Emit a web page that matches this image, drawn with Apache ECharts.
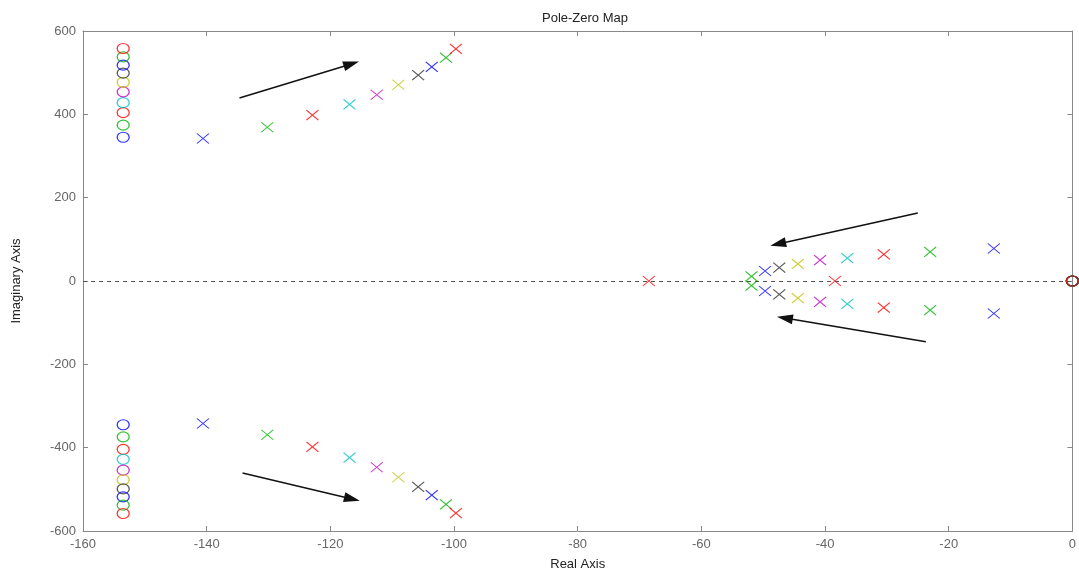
<!DOCTYPE html>
<html><head><meta charset="utf-8">
<script src="https://cdn.jsdelivr.net/npm/echarts@6/dist/echarts.min.js"></script>
<style>html,body{margin:0;padding:0;background:#fff}#c{width:1079px;height:576px}</style>
</head><body><div id="c"></div>
<script>
// MATLAB-style colour order for 10 systems
const systemColors = ['#0000ff','#00b000','#ff0000','#00c0c0','#c000c0','#c0c000','#303030','#0000ff','#00b000','#ff0000'];
// zeros: complex pair at fixed real part, plus a zero at origin
const zeroRe = [-153.5,-153.5,-153.5,-153.5,-153.5,-153.5,-153.5,-153.5,-153.5,-153.5];
const zeroIm = [345,374,404,428,454,477,499,518,538,558];
// fast complex pole pair
const highPoleRe = [-140.6,-130.2,-122.9,-116.9,-112.5,-109.0,-105.8,-103.6,-101.3,-99.7];
const highPoleIm = [342,369,398,424,447,471,494,514,536,557];
// slow complex pole pair (null for system without pair)
const lowPoleRe = [-12.7,-23.0,-30.5,-36.4,-40.8,-44.4,-47.4,-49.7,-51.9,null];
const lowPoleIm = [78,70,64,55,50,41,32,24,11,null];
// extra real poles
const realPoles = [[],[],[],[],[],[],[],[],[],[-68.5,-38.4]];
// annotation arrows [x1,y1,x2,y2]
const arrows = [[-134.7,439,-116.6,521],[-134.2,-461,-116.5,-523],[-25.0,163,-47.6,89],[-23.7,-146,-46.5,-89]];
const xTicks = {min:-160,max:0,interval:20};
const yTicks = {min:-600,max:600,interval:200};

const crossPath = 'path://M0,0L10,10M10,0L0,10';
const ellipsePath = 'path://M0,5A5,5 0 1,1 10,5A5,5 0 1,1 0,5Z';
const series = [];
series.push({
  type:'line', data:[], silent:true,
  markLine:{silent:true, symbol:['none','none'], label:{show:false},
    lineStyle:{type:[4,4], color:'#555', width:1}, data:[{yAxis:0}]}
});
series.push({
  type:'line', data:[], silent:true,
  markLine:{silent:true, symbol:['none','triangle'], symbolSize:[10,16], label:{show:false},
    lineStyle:{type:'solid', color:'#111', width:1.5},
    data: arrows.map(a=>[{coord:[a[0],a[1]]},{coord:[a[2],a[3]]}])}
});
for (let i=0;i<10;i++){
  const c = systemColors[i];
  const poles = [[highPoleRe[i],highPoleIm[i]],[highPoleRe[i],-highPoleIm[i]]];
  if (lowPoleRe[i]!==null){ poles.push([lowPoleRe[i],lowPoleIm[i]]); poles.push([lowPoleRe[i],-lowPoleIm[i]]); }
  realPoles[i].forEach(r=>poles.push([r,0]));
  series.push({type:'scatter', data:poles, symbol:crossPath, symbolSize:[12,10],
    itemStyle:{color:'rgba(0,0,0,0)', borderColor:c, borderWidth:1.1}, silent:true});
  series.push({type:'scatter', data:[[zeroRe[i],zeroIm[i]],[zeroRe[i],-zeroIm[i]],[0,0]], symbol:ellipsePath, symbolSize:[12,10],
    itemStyle:{color:'rgba(0,0,0,0)', borderColor:c, borderWidth:1.2}, silent:true});
}
const lblStyle = {color:'#666', fontFamily:'Liberation Sans, Arial', fontSize:13};
const axLine = {show:true, lineStyle:{color:'#888', width:1}};
const option = {
  animation:false,
  title:{text:'Pole-Zero Map', left:580, top:7, textAlign:'center',
    textStyle:{fontFamily:'Liberation Sans, Arial', fontSize:13, fontWeight:'normal', color:'#222'}},
  grid:{left:83, right:1, top:31, bottom:44},
  xAxis:[
    {type:'value', min:xTicks.min, max:xTicks.max, interval:xTicks.interval, position:'bottom',
     axisLine:Object.assign({onZero:false},axLine), axisTick:{show:true, inside:true, length:5, lineStyle:{color:'#888'}},
     splitLine:{show:false}, axisLabel:Object.assign({margin:7},lblStyle),
     name:'Real Axis', nameLocation:'middle', nameGap:27,
     nameTextStyle:{fontFamily:'Liberation Sans, Arial', fontSize:13, color:'#222'}},
    {type:'value', min:xTicks.min, max:xTicks.max, interval:xTicks.interval, position:'top',
     axisLine:Object.assign({onZero:false},axLine), axisTick:{show:true, inside:true, length:5, lineStyle:{color:'#888'}},
     splitLine:{show:false}, axisLabel:{show:false}}
  ],
  yAxis:[
    {type:'value', min:yTicks.min, max:yTicks.max, interval:yTicks.interval, position:'left',
     axisLine:Object.assign({onZero:false},axLine), axisTick:{show:true, inside:true, length:5, lineStyle:{color:'#888'}},
     splitLine:{show:false}, axisLabel:Object.assign({margin:7},lblStyle),
     name:'Imaginary Axis', nameLocation:'middle', nameGap:60,
     nameTextStyle:{fontFamily:'Liberation Sans, Arial', fontSize:13, color:'#222'}},
    {type:'value', min:yTicks.min, max:yTicks.max, interval:yTicks.interval, position:'right',
     axisLine:Object.assign({onZero:false},axLine), axisTick:{show:true, inside:true, length:5, lineStyle:{color:'#888'}},
     splitLine:{show:false}, axisLabel:{show:false}}
  ],
  series: series
};
const chart = echarts.init(document.getElementById('c'), null, {renderer:'canvas'});
chart.setOption(option);
</script></body></html>
